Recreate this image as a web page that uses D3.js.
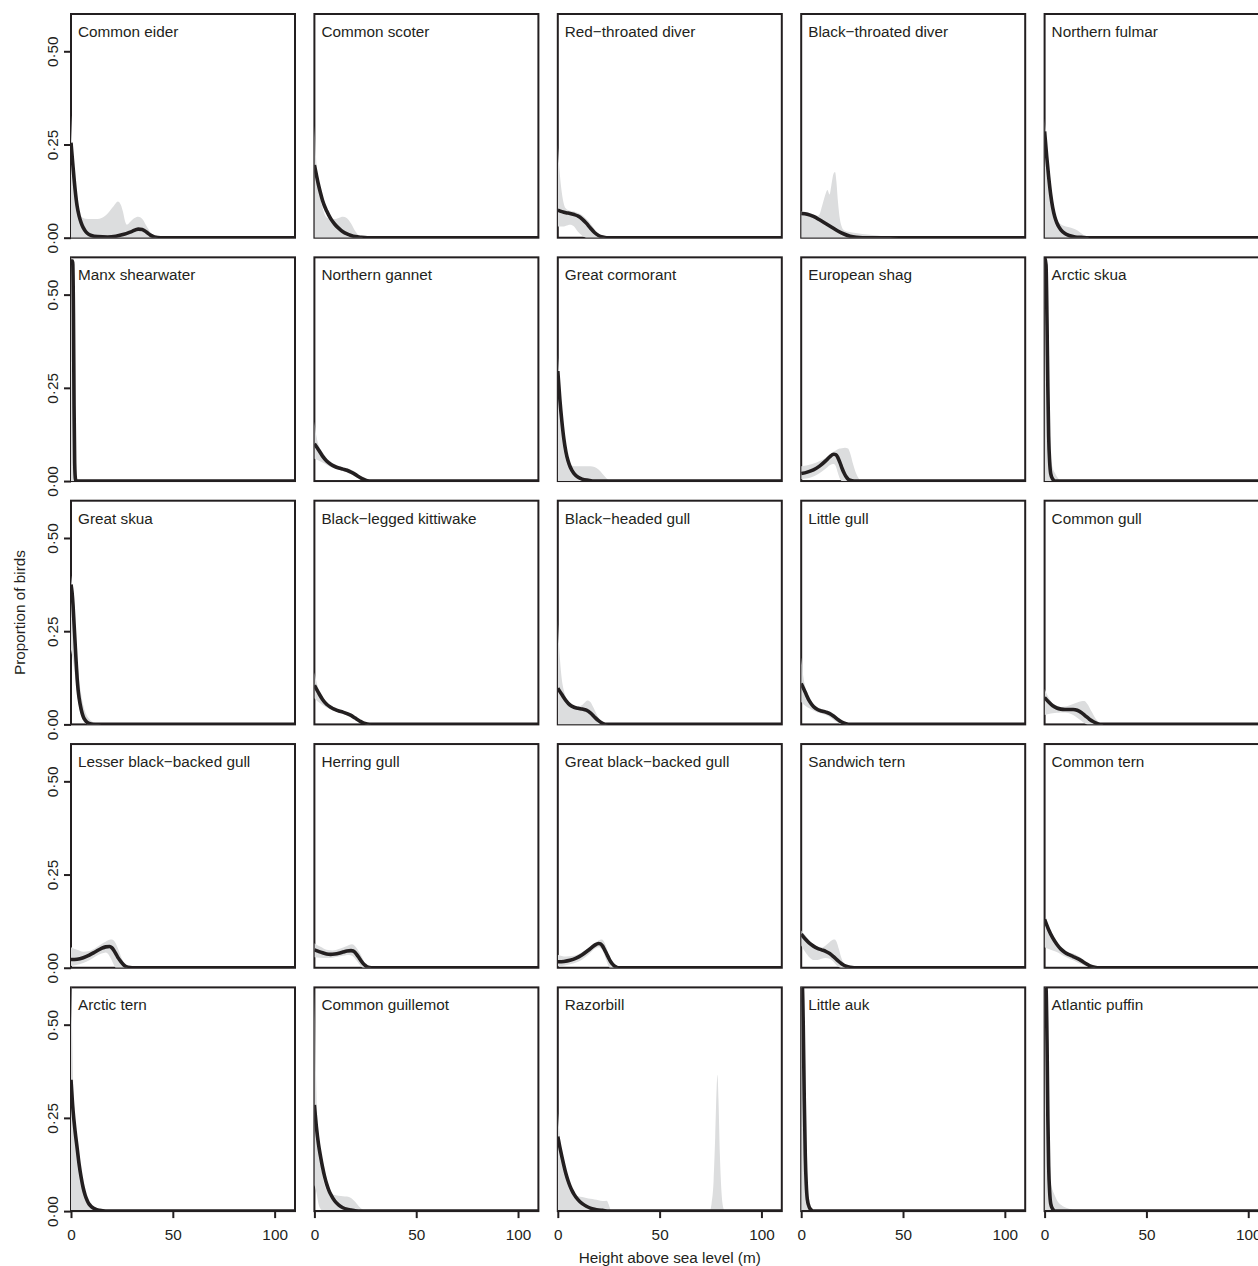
<!DOCTYPE html>
<html><head><meta charset="utf-8">
<script src="https://cdn.jsdelivr.net/npm/d3@7"></script>
<style>body{margin:0;background:#fff}svg{display:block}</style>
</head><body>
<svg id="chart" width="1258" height="1266"></svg>
<script>
// ---------- data ----------
const species = [
  "Common eider","Common scoter","Red\u2212throated diver","Black\u2212throated diver","Northern fulmar",
  "Manx shearwater","Northern gannet","Great cormorant","European shag","Arctic skua",
  "Great skua","Black\u2212legged kittiwake","Black\u2212headed gull","Little gull","Common gull",
  "Lesser black\u2212backed gull","Herring gull","Great black\u2212backed gull","Sandwich tern","Common tern",
  "Arctic tern","Common guillemot","Razorbill","Little auk","Atlantic puffin"
];
const xTicks = [0, 50, 100];
const yTicks = [0, 0.25, 0.5];
const yTickLabels = ["0\u00b700", "0\u00b725", "0\u00b750"];
const xTitle = "Height above sea level (m)";
const yTitle = "Proportion of birds";

// mean proportion curves: [height (m), proportion]
const meanCurves = [
  [[0,0.255],[1,0.19],[2,0.13],[3,0.085],[4,0.058],[5,0.04],[6,0.027],[7,0.018],[8,0.012],[10,0.006],[13,0.003],[18,0.002],[22,0.004],[26,0.009],[30,0.017],[33,0.023],[35,0.022],[37,0.015],[39,0.007],[41,0.002],[44,0],[110,0]],
  [[0,0.195],[1,0.168],[2,0.142],[3,0.12],[4,0.1],[6,0.072],[8,0.051],[10,0.036],[12,0.025],[14,0.016],[16,0.01],[18,0.006],[20,0.003],[23,0.001],[26,0],[110,0]],
  [[0,0.074],[2,0.07],[4,0.067],[6,0.065],[8,0.062],[10,0.058],[12,0.05],[14,0.039],[16,0.026],[18,0.014],[20,0.006],[22,0.002],[24,0],[110,0]],
  [[0,0.065],[3,0.063],[6,0.057],[9,0.048],[12,0.038],[15,0.028],[18,0.018],[21,0.01],[24,0.004],[27,0.001],[30,0],[110,0]],
  [[0,0.285],[1,0.22],[2,0.163],[3,0.115],[4,0.08],[5,0.056],[6,0.04],[7,0.029],[8,0.021],[10,0.011],[12,0.006],[15,0.002],[18,0.001],[22,0],[110,0]],
  [[0,0.59],[0.8,0.59],[1.2,0.45],[1.5,0.2],[1.8,0.05],[2.2,0.005],[2.6,0],[110,0]],
  [[0,0.1],[2,0.084],[4,0.067],[6,0.054],[8,0.045],[10,0.039],[12,0.035],[14,0.032],[16,0.029],[18,0.024],[20,0.018],[22,0.011],[24,0.005],[26,0.001],[28,0],[110,0]],
  [[0,0.295],[1,0.22],[2,0.16],[3,0.112],[4,0.078],[5,0.055],[6,0.039],[7,0.028],[8,0.02],[10,0.01],[12,0.005],[15,0.002],[18,0],[110,0]],
  [[0,0.02],[3,0.024],[6,0.03],[9,0.04],[12,0.054],[14,0.065],[16,0.072],[17,0.071],[18,0.063],[19,0.05],[20,0.035],[21,0.022],[22,0.012],[23,0.005],[24,0.002],[26,0],[110,0]],
  [[0,0.6],[0.7,0.58],[1.2,0.42],[1.6,0.25],[2,0.12],[2.5,0.05],[3,0.02],[4,0.005],[5,0],[110,0]],
  [[0,0.375],[0.5,0.355],[1,0.32],[1.5,0.27],[2,0.22],[2.5,0.17],[3,0.125],[3.5,0.092],[4,0.07],[5,0.04],[6,0.021],[7,0.011],[8,0.005],[10,0.001],[12,0],[110,0]],
  [[0,0.105],[2,0.085],[4,0.067],[6,0.054],[8,0.046],[10,0.04],[12,0.036],[14,0.033],[16,0.029],[18,0.024],[20,0.017],[22,0.01],[24,0.004],[26,0.001],[28,0],[110,0]],
  [[0,0.097],[2,0.08],[4,0.064],[6,0.052],[8,0.046],[10,0.043],[12,0.041],[14,0.038],[16,0.031],[18,0.02],[20,0.01],[22,0.003],[24,0],[110,0]],
  [[0,0.11],[2,0.086],[4,0.063],[6,0.048],[8,0.04],[10,0.036],[12,0.033],[14,0.029],[16,0.022],[18,0.013],[20,0.006],[22,0.002],[24,0],[110,0]],
  [[0,0.072],[2,0.06],[4,0.05],[6,0.044],[8,0.041],[10,0.04],[12,0.04],[14,0.04],[16,0.038],[18,0.032],[20,0.023],[22,0.014],[24,0.007],[26,0.002],[28,0],[110,0]],
  [[0,0.022],[3,0.023],[6,0.027],[9,0.034],[12,0.043],[15,0.052],[17,0.056],[19,0.057],[20,0.054],[21,0.047],[22,0.038],[23,0.028],[24,0.02],[25,0.013],[26,0.007],[27,0.003],[28,0.001],[30,0],[110,0]],
  [[0,0.048],[2,0.044],[4,0.04],[6,0.037],[8,0.036],[10,0.037],[12,0.039],[14,0.042],[16,0.045],[18,0.046],[19,0.045],[20,0.041],[21,0.034],[22,0.026],[23,0.018],[24,0.011],[25,0.006],[26,0.002],[28,0],[110,0]],
  [[0,0.016],[3,0.017],[6,0.02],[9,0.026],[12,0.035],[15,0.047],[18,0.06],[20,0.065],[21,0.064],[22,0.058],[23,0.048],[24,0.037],[25,0.026],[26,0.016],[27,0.009],[28,0.004],[29,0.001],[30,0],[110,0]],
  [[0,0.09],[2,0.077],[4,0.066],[6,0.058],[8,0.052],[10,0.048],[12,0.044],[14,0.038],[16,0.029],[18,0.019],[20,0.01],[22,0.004],[24,0.001],[26,0],[110,0]],
  [[0,0.13],[2,0.102],[4,0.08],[6,0.063],[8,0.05],[10,0.041],[12,0.035],[14,0.03],[16,0.025],[18,0.019],[20,0.012],[22,0.006],[24,0.002],[26,0],[110,0]],
  [[0,0.352],[1,0.27],[2,0.215],[3,0.17],[4,0.125],[5,0.09],[6,0.062],[7,0.042],[8,0.028],[9,0.018],[10,0.012],[12,0.005],[14,0.002],[17,0],[110,0]],
  [[0,0.285],[1,0.225],[2,0.18],[3,0.147],[4,0.118],[5,0.093],[6,0.073],[7,0.057],[8,0.045],[10,0.027],[12,0.016],[14,0.009],[16,0.005],[18,0.003],[20,0.001],[23,0],[110,0]],
  [[0,0.2],[1,0.172],[2,0.146],[3,0.122],[4,0.1],[5,0.082],[6,0.067],[7,0.055],[8,0.045],[10,0.03],[12,0.02],[14,0.013],[16,0.008],[18,0.005],[20,0.003],[22,0.002],[25,0],[110,0]],
  [[0,0.62],[0.6,0.6],[1,0.5],[1.5,0.3],[2,0.15],[2.5,0.07],[3,0.032],[4,0.01],[5,0.003],[6,0],[110,0]],
  [[0,0.62],[0.7,0.6],[1.2,0.45],[1.6,0.25],[2,0.12],[2.5,0.05],[3,0.02],[4,0.005],[5,0],[110,0]]
];

// uncertainty bands: [height (m), lower, upper]
const bands = [
  [[0,0,0.33],[1,0,0.2],[2,0,0.12],[3,0,0.078],[4,0,0.062],[5,0,0.056],[7,0,0.051],[10,0,0.05],[13,0,0.05],[15,0,0.053],[18,0,0.065],[21,0,0.085],[23,0,0.097],[24.5,0,0.088],[25.5,0,0.07],[26.5,0,0.045],[27.5,0,0.035],[29,0,0.042],[31,0,0.052],[33,0,0.056],[35,0,0.05],[37,0,0.032],[39,0,0.015],[41,0,0.004],[43,0,0]],
  [[0,0,0.3],[1,0,0.2],[2,0,0.145],[3,0,0.105],[4,0,0.08],[5,0,0.063],[6,0,0.054],[8,0,0.05],[10,0,0.05],[12,0,0.053],[14,0,0.056],[16,0,0.052],[18,0,0.038],[20,0,0.018],[22,0,0.005],[24,0,0]],
  [[0,0.03,0.25],[1,0.03,0.17],[2,0.03,0.12],[3,0.03,0.09],[4,0.032,0.078],[6,0.035,0.072],[8,0.03,0.07],[10,0.015,0.066],[12,0.005,0.06],[14,0,0.05],[16,0,0.038],[18,0,0.023],[20,0,0.011],[22,0,0.003],[24,0,0]],
  [[0,0,0.07],[3,0,0.068],[6,0,0.062],[8,0,0.058],[9,0,0.062],[10,0,0.08],[11,0,0.1],[12,0,0.118],[12.9,0,0.128],[13.9,0,0.116],[14.8,0,0.14],[15.8,0,0.17],[16.6,0,0.176],[17.3,0,0.15],[18,0,0.1],[19,0,0.05],[20,0,0.028],[21,0,0.02],[25,0,0.014],[30,0,0.01],[35,0,0.007],[40,0,0.004],[45,0,0.001],[48,0,0]],
  [[0,0,0.32],[1,0,0.25],[2,0,0.18],[3,0,0.125],[4,0,0.085],[5,0,0.062],[6,0,0.048],[8,0,0.036],[10,0,0.031],[12,0,0.028],[14,0,0.025],[16,0,0.02],[18,0,0.012],[20,0,0.005],[22,0,0]],
  [[0,0,0.6],[1,0,0.58],[1.5,0,0.3],[2,0,0.05],[2.5,0,0]],
  [[0,0.06,0.16],[1,0.058,0.12],[2,0.055,0.098],[4,0.05,0.077],[6,0.044,0.062],[8,0.038,0.052],[10,0.034,0.045],[12,0.03,0.04],[14,0.027,0.037],[16,0.023,0.034],[18,0.018,0.03],[20,0.012,0.024],[22,0.006,0.016],[24,0.002,0.008],[26,0,0.002],[28,0,0]],
  [[0,0,0.34],[1,0,0.25],[2,0,0.17],[3,0,0.115],[4,0,0.08],[5,0,0.058],[6,0,0.046],[8,0,0.04],[12,0,0.04],[16,0,0.04],[18,0,0.038],[20,0,0.031],[22,0,0.019],[24,0,0.007],[26,0,0]],
  [[0,0.005,0.04],[5,0.01,0.045],[10,0.025,0.056],[13,0.038,0.066],[15,0.045,0.075],[16,0.046,0.079],[17,0.04,0.082],[18,0.022,0.085],[19,0.006,0.087],[20,0,0.088],[21.5,0,0.089],[23,0,0.087],[24,0,0.075],[25.5,0,0.045],[27,0,0.02],[28.5,0,0.005],[29.5,0,0]],
  [[0,0,0.6],[1,0,0.55],[2,0,0.2],[3,0,0.07],[4,0,0.035],[5,0,0.022],[6,0,0.012],[7,0,0.005],[8,0,0]],
  [[0,0.2,0.4],[1,0.17,0.34],[2,0.13,0.26],[3,0.085,0.18],[4,0.05,0.12],[5,0.025,0.08],[6,0.01,0.052],[7,0.003,0.033],[8,0,0.021],[10,0,0.009],[12,0,0.004],[15,0,0]],
  [[0,0.07,0.14],[1,0.065,0.115],[2,0.06,0.095],[4,0.052,0.075],[6,0.045,0.06],[8,0.04,0.051],[10,0.035,0.045],[14,0.028,0.037],[18,0.019,0.029],[22,0.006,0.014],[26,0,0.002],[28,0,0]],
  [[0,0,0.28],[1,0,0.18],[2,0,0.12],[3,0,0.09],[4,0,0.072],[6,0,0.056],[8,0,0.05],[10,0,0.048],[12,0,0.052],[13.5,0,0.06],[14.5,0,0.064],[16,0,0.06],[17.5,0,0.045],[19,0,0.028],[21,0,0.01],[23,0,0.002],[25,0,0]],
  [[0,0.06,0.18],[1,0.055,0.13],[2,0.05,0.1],[4,0.043,0.072],[6,0.037,0.055],[8,0.032,0.046],[10,0.029,0.041],[12,0.025,0.038],[14,0.02,0.035],[16,0.012,0.028],[18,0.005,0.018],[20,0.001,0.008],[22,0,0.002],[24,0,0]],
  [[0,0.025,0.095],[2,0.028,0.072],[4,0.03,0.057],[6,0.031,0.05],[8,0.032,0.047],[10,0.032,0.048],[12,0.03,0.051],[14,0.025,0.055],[16,0.018,0.059],[18,0.01,0.062],[19.5,0.004,0.063],[21,0,0.055],[23,0,0.035],[25,0,0.016],[27,0,0.005],[29,0,0]],
  [[0,0.005,0.055],[3,0.008,0.048],[6,0.013,0.043],[9,0.02,0.045],[12,0.03,0.053],[15,0.038,0.064],[17,0.041,0.07],[18,0.038,0.073],[19,0.03,0.075],[20,0.02,0.076],[21,0.008,0.073],[22,0,0.065],[23,0,0.052],[24,0,0.038],[25,0,0.024],[26,0,0.012],[27,0,0.004],[28,0,0]],
  [[0,0.028,0.066],[3,0.027,0.056],[6,0.026,0.048],[9,0.027,0.046],[12,0.03,0.05],[15,0.033,0.056],[17,0.034,0.061],[18.5,0.032,0.063],[20,0.024,0.058],[22,0.01,0.042],[23,0.003,0.032],[24,0,0.021],[26,0,0.006],[28,0,0]],
  [[0,0.004,0.035],[4,0.007,0.03],[8,0.012,0.032],[12,0.022,0.042],[15,0.035,0.052],[18,0.05,0.066],[20,0.055,0.073],[21.5,0.05,0.076],[22.5,0.04,0.072],[23.5,0.025,0.06],[24.5,0.01,0.045],[25.5,0,0.03],[27,0,0.014],[28.5,0,0.004],[30,0,0]],
  [[0,0.06,0.1],[2,0.042,0.087],[4,0.028,0.073],[6,0.021,0.062],[8,0.021,0.056],[10,0.024,0.054],[12,0.026,0.06],[14,0.024,0.069],[15.5,0.018,0.075],[16.5,0.012,0.076],[17.5,0.006,0.068],[18.5,0.002,0.05],[19.5,0,0.03],[21,0,0.012],[23,0,0.002],[24,0,0]],
  [[0,0.055,0.13],[2,0.05,0.1],[4,0.046,0.08],[6,0.042,0.064],[8,0.036,0.053],[10,0.03,0.046],[12,0.025,0.041],[14,0.02,0.038],[16,0.015,0.033],[18,0.01,0.026],[20,0.005,0.017],[22,0.002,0.009],[24,0,0.003],[26,0,0]],
  [[0,0,0.65],[0.5,0,0.5],[1,0,0.36],[2,0,0.24],[3,0,0.17],[4,0,0.12],[5,0,0.085],[6,0,0.06],[8,0,0.032],[10,0,0.017],[12,0,0.008],[15,0,0.003],[18,0,0]],
  [[0,0.07,0.6],[0.5,0.06,0.45],[1,0.05,0.32],[2,0.02,0.2],[3,0.006,0.135],[4,0,0.095],[5,0,0.07],[6,0,0.056],[8,0,0.047],[10,0,0.043],[12,0,0.041],[14,0,0.04],[16,0,0.039],[18,0,0.035],[20,0,0.025],[22,0,0.012],[24,0,0.003],[25,0,0]],
  [[0,0,0.27],[1,0,0.2],[2,0,0.155],[3,0,0.12],[4,0,0.095],[5,0,0.075],[6,0,0.06],[7,0,0.05],[8,0,0.044],[10,0,0.04],[12,0,0.038],[14,0,0.035],[16,0,0.033],[18,0,0.031],[20,0,0.029],[22,0,0.027],[24,0,0.028],[25,0,0.018],[26,0,0.003],[27,0,0],[74.5,0,0],[75.5,0,0.02],[76.5,0,0.08],[77.3,0,0.2],[78,0,0.33],[78.4,0,0.366],[78.9,0,0.3],[79.6,0,0.15],[80.4,0,0.05],[81.2,0,0.01],[82,0,0]],
  [[0,0,0.62],[1,0,0.55],[2,0,0.2],[3,0,0.06],[4,0,0.02],[5,0,0.005],[6,0,0]],
  [[0,0,0.62],[1,0,0.55],[1.5,0,0.3],[2,0,0.12],[2.5,0,0.09],[3,0,0.075],[4,0,0.055],[5,0,0.042],[6,0,0.03],[7,0,0.022],[8,0,0.017],[10,0,0.01],[12,0,0.006],[14,0,0.003],[17,0,0]]
];

// ---------- layout ----------
const nCols = 5;
const panelW = 224, panelH = 223.7;
const left0 = 71, top0 = 14, stepX = 243.4, stepY = 243.35;
const ink = "#231f20";
const font = "'Liberation Sans', Arial, Helvetica, sans-serif";
const fs = 15.3;

const svg = d3.select("#chart");
const x = d3.scaleLinear().domain([0, 110]).range([0, panelW]);
const y = d3.scaleLinear().domain([0, 0.6]).range([panelH, 0]);

svg.append("defs").append("clipPath").attr("id", "plotClip")
  .append("rect").attr("x", 0).attr("y", 0).attr("width", panelW).attr("height", panelH);

const area = d3.area().x(d => x(d[0])).y0(d => y(d[1])).y1(d => y(d[2])).curve(d3.curveMonotoneX);
const line = d3.line().x(d => x(d[0])).y(d => y(d[1])).curve(d3.curveMonotoneX);

species.forEach((name, i) => {
  const col = i % nCols, row = Math.floor(i / nCols);
  const g = svg.append("g")
    .attr("transform", `translate(${left0 + col * stepX},${top0 + row * stepY})`);

  g.append("rect").attr("width", panelW).attr("height", panelH)
    .attr("fill", "none").attr("stroke", ink).attr("stroke-width", 2);

  const inner = g.append("g").attr("clip-path", "url(#plotClip)");
  inner.append("path").datum(bands[i]).attr("d", area).attr("fill", "#dcddde");
  inner.append("path").datum(meanCurves[i]).attr("d", line)
    .attr("fill", "none").attr("stroke", ink).attr("stroke-width", 3.6)
    .attr("stroke-linejoin", "round");

  g.append("text").attr("x", 7).attr("y", 23).text(name)
    .attr("font-family", font).attr("font-size", fs).attr("fill", ink);

  if (col === 0) {
    const ax = g.append("g").call(d3.axisLeft(y).tickValues(yTicks)
      .tickFormat((d, k) => yTickLabels[k]).tickSize(7));
    ax.select(".domain").remove();
    ax.selectAll("line").attr("stroke", ink).attr("stroke-width", 2);
    ax.selectAll("text").attr("transform", "rotate(-90)")
      .attr("x", 0).attr("y", -13.5).attr("dy", 0)
      .attr("text-anchor", "middle").attr("font-family", font)
      .attr("font-size", fs).attr("fill", ink);
  }
  if (row === 4) {
    const ax = g.append("g").attr("transform", `translate(0,${panelH})`)
      .call(d3.axisBottom(x).tickValues(xTicks).tickSize(7));
    ax.select(".domain").attr("d", `M${x(0)},0H${x(100)}`).attr("stroke", ink).attr("stroke-width", 2);
    ax.selectAll("line").attr("stroke", ink).attr("stroke-width", 2);
    ax.selectAll("text").attr("y", 28.5).attr("dy", 0)
      .attr("font-family", font).attr("font-size", fs).attr("fill", ink);
  }
});

svg.append("text").attr("x", left0 + 2 * stepX + panelW / 2).attr("y", 1263)
  .attr("text-anchor", "middle").attr("font-family", font).attr("font-size", fs)
  .attr("fill", ink).text(xTitle);

svg.append("text").attr("transform", `translate(25,${top0 + 2 * stepY + panelH / 2}) rotate(-90)`)
  .attr("text-anchor", "middle").attr("font-family", font).attr("font-size", fs)
  .attr("fill", ink).text(yTitle);
</script>
</body></html>
